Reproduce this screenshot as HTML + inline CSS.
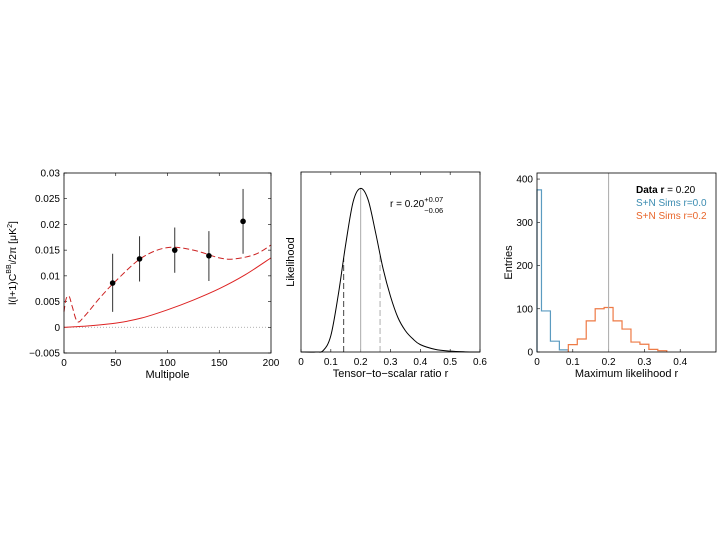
<!DOCTYPE html>
<html><head><meta charset="utf-8"><style>
html,body{margin:0;padding:0;background:#fff;}
svg{display:block;font-family:"Liberation Sans",sans-serif;}
</style></head><body>
<svg id="s" width="720" height="540" viewBox="0 0 720 540"></svg>
<script>
// ---- Panel 1 data ----
const p1Ells=[47,73,107,140,173];
const p1Vals=[0.0086,0.0133,0.0150,0.0139,0.0206];
const p1Lo=[0.0030,0.0089,0.0106,0.0090,0.0143];
const p1Hi=[0.0143,0.0177,0.0194,0.0187,0.0269];
const lensL=[0,10,25,50,75,100,125,150,175,200];
const lensV=[0,0.0001,0.0003,0.0008,0.0018,0.0034,0.0053,0.0075,0.0102,0.0135];
const totL=[0,2,5,8,13,20,35,50,75,100,125,150,165,185,200];
const totV=[0.003,0.0055,0.006,0.004,0.0011,0.0022,0.0058,0.0090,0.0135,0.0155,0.0150,0.0135,0.0133,0.0142,0.0160];
const p1YTicks=[-0.005,0,0.005,0.01,0.015,0.02,0.025,0.03];
const p1YLabels=["\u22120.005","0","0.005","0.01","0.015","0.02","0.025","0.03"];
const p1XTicks=[0,50,100,150,200];
// ---- Panel 2 data ----
const likR=[0,0.05,0.075,0.1,0.125,0.15,0.175,0.2,0.225,0.25,0.275,0.3,0.325,0.35,0.375,0.4,0.45,0.5,0.55,0.6];
const likV=[0,0,0.01,0.1,0.35,0.66,0.92,1.0,0.93,0.73,0.51,0.34,0.21,0.13,0.08,0.045,0.016,0.005,0.001,0];
const rBest=0.20, rLo=0.143, rHi=0.265;
const p2XTicks=[0,0.1,0.2,0.3,0.4,0.5,0.6];
// ---- Panel 3 data ----
const binEdges0=[-0.0125,0.0125,0.0375,0.0625,0.0875];
const blueCounts=[375,95,25,5];
const binEdges2=[0.0875,0.1125,0.1375,0.1625,0.1875,0.2125,0.2375,0.2625,0.2875,0.3125,0.3375,0.3625];
const orangeCounts=[17,30,72,100,103,72,53,23,18,6,3];
const p3YTicks=[0,100,200,300,400];
const p3XTicks=[0,0.1,0.2,0.3,0.4];
const dataR=0.20;

const S=document.getElementById('s');const NS='http://www.w3.org/2000/svg';
function mk(t,a,p){const e=document.createElementNS(NS,t);for(const k in a)e.setAttribute(k,a[k]);(p||S).appendChild(e);return e;}
function txt(x,y,s,anchor,size,p,fill){const e=mk('text',{x:x,y:y,'text-anchor':anchor||'middle','font-size':size||10,fill:fill||'#000'},p);e.textContent=s;return e;}
function lin(d0,d1,r0,r1){return v=>r0+(v-d0)/(d1-d0)*(r1-r0);}
function smooth(pts){let d='M'+pts[0][0]+','+pts[0][1];for(let i=0;i<pts.length-1;i++){const p0=pts[Math.max(0,i-1)],p1=pts[i],p2=pts[i+1],p3=pts[Math.min(pts.length-1,i+2)];d+=' C'+(p1[0]+(p2[0]-p0[0])/6)+','+(p1[1]+(p2[1]-p0[1])/6)+' '+(p2[0]-(p3[0]-p1[0])/6)+','+(p2[1]-(p3[1]-p1[1])/6)+' '+p2[0]+','+p2[1];}return d;}

// Panel 1
(function(){
const g=mk('g',{});
const L=64,R=271,T=173,B=353;const x=lin(0,200,L,R),y=lin(-0.005,0.03,B,T);
mk('line',{x1:L,x2:R,y1:y(0),y2:y(0),stroke:'#999','stroke-dasharray':'1,2','stroke-width':0.8},g);
p1YTicks.forEach((v,i)=>{mk('line',{x1:L,x2:L+3,y1:y(v),y2:y(v),stroke:'#000','stroke-width':0.6},g);mk('line',{x1:R,x2:R-3,y1:y(v),y2:y(v),stroke:'#000','stroke-width':0.6},g);txt(L-4,y(v)+3.5,p1YLabels[i],'end',10,g);});
p1XTicks.forEach(v=>{mk('line',{x1:x(v),x2:x(v),y1:B,y2:B-3,stroke:'#000','stroke-width':0.6},g);mk('line',{x1:x(v),x2:x(v),y1:T,y2:T+3,stroke:'#000','stroke-width':0.6},g);txt(x(v),B+13,String(v),'middle',10,g);});
const l1=mk('path',{d:smooth(lensL.map((l,i)=>[x(l),y(lensV[i])])),fill:'none',stroke:'#d22','stroke-width':1},g);
const l2=mk('path',{d:smooth(totL.map((l,i)=>[x(l),y(totV[i])])),fill:'none',stroke:'#c22','stroke-width':1,'stroke-dasharray':'6,3'},g);
p1Ells.forEach((l,i)=>{const e=mk('line',{x1:x(l),x2:x(l),y1:y(p1Lo[i]),y2:y(p1Hi[i]),stroke:'#333','stroke-width':1},g);
const c=mk('circle',{cx:x(l),cy:y(p1Vals[i]),r:2.8,fill:'#000'},g);});
mk('rect',{x:L,y:T,width:R-L,height:B-T,fill:'none',stroke:'#000','stroke-width':0.8},g);
txt((L+R)/2,B+25,'Multipole','middle',11,g);
const yl=mk('text',{x:0,y:0,'text-anchor':'middle','font-size':10.5,transform:'translate(16,'+((T+B)/2)+') rotate(-90)'},g);
yl.innerHTML='l(l+1)C<tspan dy="-5" font-size="7">BB</tspan><tspan dy="5" font-size="7">l</tspan>/2\u03c0 [\u03bcK<tspan dy="-4" font-size="7">2</tspan><tspan dy="4">]</tspan>';

})();

// Panel 2
(function(){
const g=mk('g',{});
const L=301,R=480,T=172,B=352;const x=lin(0,0.6,L,R),y=lin(0,1.1,B,T);
p2XTicks.forEach(v=>{mk('line',{x1:x(v),x2:x(v),y1:B,y2:B-3,stroke:'#000','stroke-width':0.6},g);mk('line',{x1:x(v),x2:x(v),y1:T,y2:T+3,stroke:'#000','stroke-width':0.6},g);txt(x(v),B+13,String(v),'middle',10,g);});
const il=(r)=>{for(let i=0;i<likR.length-1;i++)if(r<=likR[i+1]){const t=(r-likR[i])/(likR[i+1]-likR[i]);return likV[i]+t*(likV[i+1]-likV[i]);}return 0;};
mk('line',{x1:x(rBest),x2:x(rBest),y1:B,y2:y(il(rBest)),stroke:'#aaa','stroke-width':1},g);
mk('line',{x1:x(rLo),x2:x(rLo),y1:B,y2:y(il(rLo)),stroke:'#444','stroke-width':1,'stroke-dasharray':'6,3'},g);
mk('line',{x1:x(rHi),x2:x(rHi),y1:B,y2:y(il(rHi)),stroke:'#bbb','stroke-width':1.2,'stroke-dasharray':'6,3'},g);
const c=mk('path',{d:smooth(likR.map((r,i)=>[x(r),y(likV[i])])),fill:'none',stroke:'#000','stroke-width':1},g);
mk('rect',{x:L,y:T,width:R-L,height:B-T,fill:'none',stroke:'#000','stroke-width':0.8},g);
const an=mk('text',{x:390,y:207,'font-size':10},g);an.innerHTML='r = 0.20<tspan dy="-5" font-size="7.5">+0.07</tspan><tspan dx="-19" dy="11" font-size="7.5">\u22120.06</tspan>';

txt((L+R)/2,B+25,'Tensor\u2212to\u2212scalar ratio r','middle',11,g);
txt(0,0,'Likelihood','middle',11,g).setAttribute('transform','translate(294,'+((T+B)/2)+') rotate(-90)');
})();

// Panel 3
(function(){
const g=mk('g',{});
const L=537,R=716,T=173,B=352;const x=lin(0,0.5,L,R),y=lin(0,414,B,T);
p3YTicks.forEach(v=>{mk('line',{x1:L,x2:L+3,y1:y(v),y2:y(v),stroke:'#000','stroke-width':0.6},g);txt(L-4,y(v)+3.5,String(v),'end',10,g);});
p3XTicks.forEach(v=>{mk('line',{x1:x(v),x2:x(v),y1:B,y2:B-3,stroke:'#000','stroke-width':0.6},g);txt(x(v),B+13,String(v),'middle',10,g);});
function step(ed,cn,col,name){let d='M'+Math.max(L,x(ed[0]))+','+y(0);cn.forEach((c,i)=>{d+=' L'+Math.max(L,x(ed[i]))+','+y(c)+' L'+x(ed[i+1])+','+y(c);});d+=' L'+x(ed[ed.length-1])+','+y(0);const p=mk('path',{d:d,fill:'none',stroke:col,'stroke-width':1.2},g);}
step(binEdges0,blueCounts,'#5b9bc0','hist-r0');
step(binEdges2,orangeCounts,'#ee7a45','hist-r02');
mk('line',{x1:x(dataR),x2:x(dataR),y1:T,y2:B,stroke:'#aaa','stroke-width':1},g);
mk('rect',{x:L,y:T,width:R-L,height:B-T,fill:'none',stroke:'#000','stroke-width':0.8},g);
const t1=mk('text',{x:636,y:193,'font-size':10},g);t1.innerHTML='<tspan font-weight="bold">Data r</tspan> = 0.20';
txt(636,206,'S+N Sims r=0.0','start',10,g,'#3a8bb0');
txt(636,219,'S+N Sims r=0.2','start',10,g,'#e8652a');
txt((L+R)/2,B+25,'Maximum likelihood r','middle',11,g);
txt(0,0,'Entries','middle',11,g).setAttribute('transform','translate(512,'+((T+B)/2)+') rotate(-90)');
})();
</script>
</body></html>
